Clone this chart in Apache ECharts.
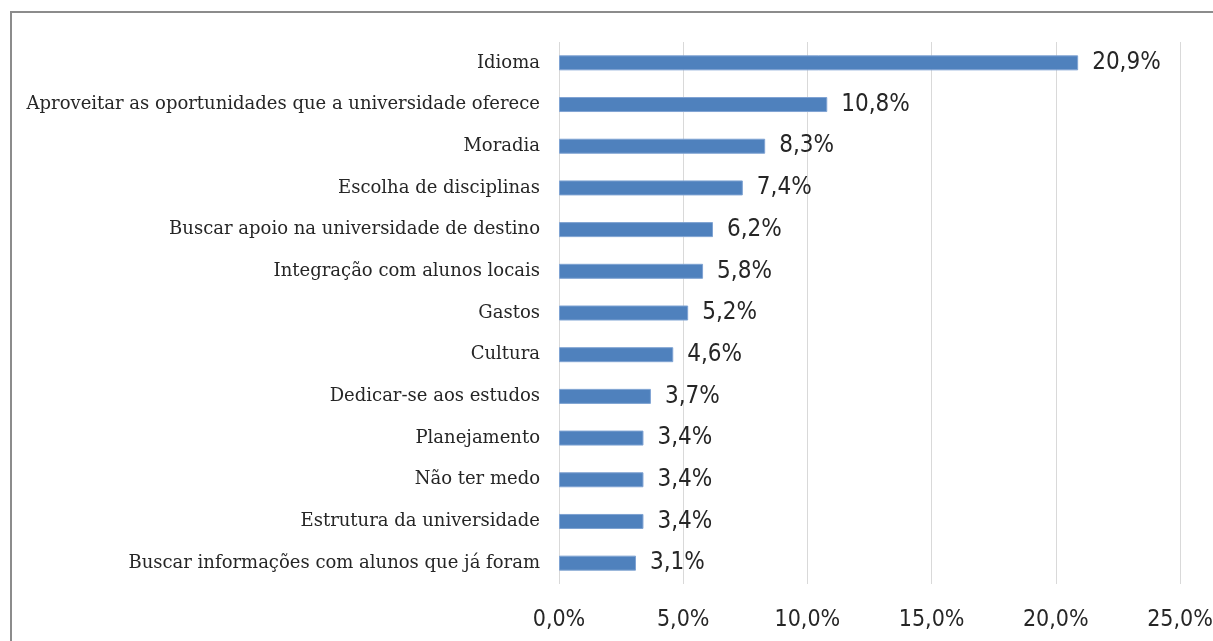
<!DOCTYPE html>
<html>
<head>
<meta charset="utf-8">
<script src="https://cdn.jsdelivr.net/npm/echarts@6/dist/echarts.min.js"></script>
<style>
html,body{margin:0;padding:0;background:#fff;}
#frame{position:absolute;left:10px;top:11px;width:1220px;height:660px;border-left:2px solid #8c8c8c;border-top:2px solid #8c8c8c;box-sizing:border-box;}
#chart{position:absolute;left:0;top:0;width:1213px;height:641px;}
</style>
</head>
<body>
<div id="frame"></div>
<div id="chart"></div>
<script>
const categories = [
  "Idioma",
  "Aproveitar as oportunidades que a universidade oferece",
  "Moradia",
  "Escolha de disciplinas",
  "Buscar apoio na universidade de destino",
  "Integração com alunos locais",
  "Gastos",
  "Cultura",
  "Dedicar-se aos estudos",
  "Planejamento",
  "Não ter medo",
  "Estrutura da universidade",
  "Buscar informações com alunos que já foram"
];
const values = [20.9, 10.8, 8.3, 7.4, 6.2, 5.8, 5.2, 4.6, 3.7, 3.4, 3.4, 3.4, 3.1];
const xTicks = { min: 0, max: 25, interval: 5 };

const sansFont = "'Liberation Sans Narrow', 'DejaVu Sans Condensed', 'Liberation Sans', sans-serif";
const serifFont = "'DejaVu Serif', 'Liberation Serif', serif";

const chart = echarts.init(document.getElementById('chart'));
chart.setOption({
  animation: false,
  backgroundColor: 'transparent',
  grid: { left: 559, right: 33, top: 42, bottom: 57, containLabel: false, outerBoundsMode: 'none' },
  xAxis: {
    type: 'value',
    min: xTicks.min, max: xTicks.max, interval: xTicks.interval,
    axisLine: { show: false },
    axisTick: { show: false },
    splitLine: { show: true, lineStyle: { color: '#d9d9d9', width: 1 } },
    axisLabel: {
      margin: 25,
      fontFamily: sansFont, fontSize: 23, color: '#262626',
      formatter: v => v.toFixed(1).replace('.', ',') + '%'
    }
  },
  yAxis: {
    type: 'category',
    data: categories,
    inverse: true,
    axisLine: { show: false },
    axisTick: { show: false },
    splitLine: { show: false },
    axisLabel: { margin: 19, fontFamily: serifFont, fontSize: 18, color: '#262626' }
  },
  series: [{
    type: 'bar',
    data: values,
    barWidth: 15,
    itemStyle: { color: '#4f81bd', borderColor: '#7fa3d3', borderWidth: 1 },
    label: {
      show: true, position: 'right', distance: 14,
      fontFamily: sansFont, fontSize: 24, color: '#262626',
      formatter: p => p.value.toFixed(1).replace('.', ',') + '%'
    }
  }]
});
</script>
</body>
</html>
